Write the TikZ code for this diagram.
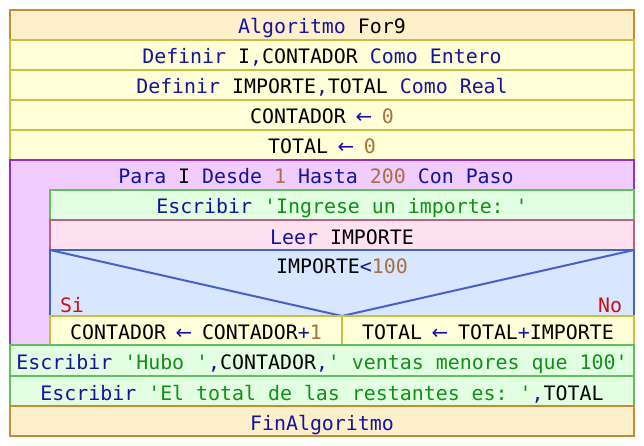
\documentclass[tikz,border=0pt]{standalone}
\usepackage{fontspec}
\setmonofont{DejaVu Sans Mono}
\newfontfamily\arrowfont{DejaVu Sans}
\usetikzlibrary{positioning}
\definecolor{algf}{HTML}{FFF0CC}
\definecolor{algd}{HTML}{C88A30}
\definecolor{deff}{HTML}{FFFFD8}
\definecolor{defd}{HTML}{C8C040}
\definecolor{forf}{HTML}{F0CCFF}
\definecolor{ford}{HTML}{9030CC}
\definecolor{outf}{HTML}{E2FFE2}
\definecolor{outd}{HTML}{60C060}
\definecolor{inf}{HTML}{FFE2F0}
\definecolor{ind}{HTML}{C06088}
\definecolor{iff}{HTML}{D8E6FF}
\definecolor{ifd}{HTML}{4462CC}
\definecolor{kwc}{HTML}{1414A0}
\definecolor{strc}{HTML}{10901A}
\definecolor{numc}{HTML}{A8703A}
\definecolor{sinoc}{HTML}{D01010}
\newcommand{\psf}{\fontsize{19.9pt}{24pt}\selectfont\ttfamily}
\newcommand{\kwd}[1]{\textcolor{kwc}{#1}}
\newcommand{\strg}[1]{\textcolor{strc}{#1}}
\newcommand{\numb}[1]{\textcolor{numc}{#1}}
\newcommand{\asg}{\kwd{\makebox[12pt]{\arrowfont ←}}}
\tikzset{
  cell/.style ={draw,line width=2pt,anchor=north west,inner sep=0pt,outer sep=0pt,
                minimum height=30pt,text height=20pt,text depth=2pt,font=\psf},
  algb/.style ={cell,draw=algd,fill=algf,minimum width=624pt},
  defb/.style ={cell,draw=defd,fill=deff,minimum width=624pt},
  forb/.style ={cell,draw=ford,fill=forf,minimum width=624pt,minimum height=185pt},
  outb/.style ={cell,draw=outd,fill=outf,minimum width=624pt},
  inb/.style  ={cell,draw=ind,fill=inf,minimum width=584pt},
  ifb/.style  ={cell,draw=ifd,fill=iff,minimum width=584pt,minimum height=66pt},
  brb/.style  ={defb,minimum width=292pt,minimum height=29pt},
  txt/.style  ={inner sep=0pt,outer sep=0pt,font=\psf,anchor=base},
  sino/.style ={txt,text=sinoc},
  ifl/.style  ={draw=ifd,line width=2pt},
}
\begin{document}
\begin{tikzpicture}[x=1pt,y=-1pt]
\path[use as bounding box] (0,0) rectangle (644,446);

% ============================ cabecera ==================================
\node[algb] (alg) at (10,10) {\kwd{Algoritmo} For9};
\node[defb] (def1) at (alg.south west) {\kwd{Definir} I\kwd{,}CONTADOR \kwd{Como Entero}};
\node[defb] (def2) at (def1.south west) {\kwd{Definir} IMPORTE\kwd{,}TOTAL \kwd{Como Real}};
\node[defb] (ini1) at (def2.south west) {CONTADOR \asg{} \numb{0}};
\node[defb] (ini2) at (ini1.south west) {TOTAL \asg{} \numb{0}};

% ============================ Para ======================================
\node[forb] (para) at (ini2.south west) {};
\node[txt] (parah) at (316,183.5)
  {\kwd{Para} I \kwd{Desde} \numb{1} \kwd{Hasta} \numb{200} \kwd{Con Paso}};
\node[outb,minimum width=584pt] (esc1) at (50,190) {\kwd{Escribir} \strg{'Ingrese un importe: '}};
\node[inb] (leer) at (esc1.south west) {\kwd{Leer} IMPORTE};
\node[ifb] (si) at (leer.south west) {};
\draw[ifl] (si.north west) -- (si.south) -- (si.north east);
\node[txt,yshift=-23.5pt] (cond) at (si.north) {IMPORTE\kwd{<}\numb{100}};
\node[sino,anchor=base west,xshift=10pt,yshift=4pt] (lsi) at (si.south west) {Si};
\node[sino,anchor=base east,xshift=-12pt,yshift=4pt] (lno) at (si.south east) {No};
\node[brb] (then) at (si.south west) {CONTADOR \asg{} CONTADOR\kwd{+}\numb{1}};
\node[brb] (else) at (then.north east) {TOTAL \asg{} TOTAL\kwd{+}IMPORTE};

% ============================ salida ====================================
\node[outb,minimum height=31pt] (esc2) at (para.south west)
  {\kwd{Escribir} \strg{'Hubo '}\kwd{,}CONTADOR\kwd{,}\strg{' ventas menores que 100'}};
\node[outb] (esc3) at (esc2.south west)
  {\kwd{Escribir} \strg{'El total de las restantes es: '}\kwd{,}TOTAL};
\node[algb] (fin) at (esc3.south west) {\kwd{FinAlgoritmo}};
\end{tikzpicture}
\end{document}
